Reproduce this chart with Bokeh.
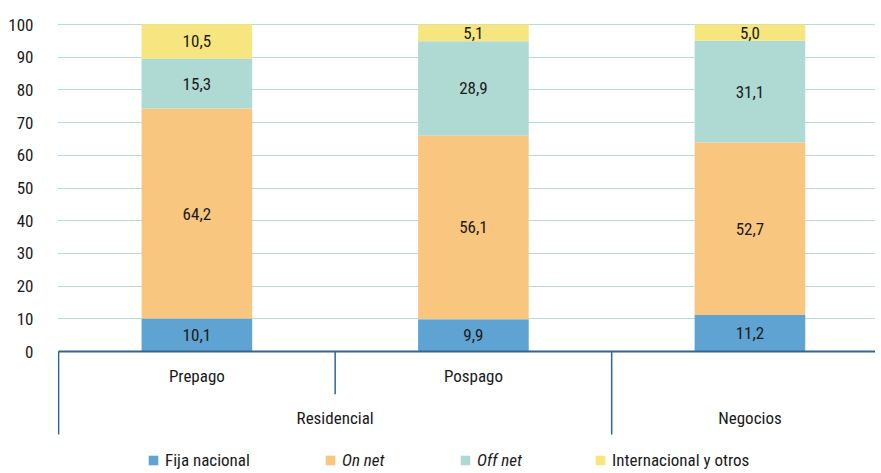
import numpy as np
from bokeh.plotting import figure
from bokeh.models import (ColumnDataSource, Range1d, FixedTicker, Legend, LegendItem)
from bokeh.core.properties import value
from bokeh.embed import file_html
from bokeh.resources import INLINE

# ---- data ----
subcategories = ["Prepago", "Pospago", ""]
groups = ["Residencial", "Residencial", "Negocios"]
group_labels = ["Residencial", "Negocios"]
series = ["Fija nacional", "On net", "Off net", "Internacional y otros"]
fija_nacional = [10.1, 9.9, 11.2]
on_net = [64.2, 56.1, 52.7]
off_net = [15.3, 28.9, 31.1]
internacional = [10.5, 5.1, 5.0]
y_ticks = list(range(0, 101, 10))

colors = ["#5fa3d3", "#f9c680", "#afd9d3", "#f7e67f"]
FONT = "'Noto Sans Condensed', 'Roboto Condensed', 'Liberation Sans Narrow', 'DejaVu Sans Condensed', sans-serif"
TXT = "#1a1a1a"
AXIS = "#2f6792"

n = len(subcategories)
xs = np.arange(n) + 0.5
src = ColumnDataSource(dict(x=xs, fija=fija_nacional, on=on_net, off=off_net, intl=internacional))

p = figure(width=875, height=470, output_backend="svg", toolbar_location=None,
           x_range=Range1d(-0.004, 2.954), y_range=Range1d(-36.39, 107.34),
           min_border=0, min_border_left=57)
p.outline_line_color = None
p.xaxis.visible = False
p.xgrid.visible = False
p.ygrid.ticker = FixedTicker(ticks=y_ticks)
p.ygrid.grid_line_color = "#b5ddd8"
p.ygrid.grid_line_width = 1
p.yaxis.ticker = FixedTicker(ticks=y_ticks)
p.yaxis.axis_line_color = None
p.yaxis.major_tick_line_color = None
p.yaxis.minor_tick_line_color = None
p.yaxis.major_label_standoff = 18
p.yaxis.major_label_text_font = FONT
p.yaxis.major_label_text_font_size = "17px"
p.yaxis.major_label_text_color = TXT

rends = p.vbar_stack(["fija", "on", "off", "intl"], x="x", width=0.4, color=colors,
                     line_color=None, source=src)

# data labels
vals = np.array([fija_nacional, on_net, off_net, internacional])
bottoms = np.vstack([np.zeros(n), np.cumsum(vals, axis=0)[:-1]])
mids = bottoms + vals / 2
lx, ly, lt = [], [], []
for s in range(vals.shape[0]):
    for i in range(n):
        lx.append(xs[i]); ly.append(mids[s, i]); lt.append(f"{vals[s, i]:.1f}".replace(".", ","))
p.text(x=lx, y=ly, text=lt, text_align="center", text_baseline="middle",
       text_font=value(FONT), text_font_size="17px", text_color=TXT)

# x axis line and category separators
p.segment(x0=[0], y0=[0], x1=[3], y1=[0], line_color=AXIS, line_width=2)
p.segment(x0=[0, 1, 2], y0=[0, 0, 0], x1=[0, 1, 2], y1=[-25.4, -13.1, -25.4],
          line_color=AXIS, line_width=1.5)

# category labels
sub_x = [xs[i] for i in range(n) if subcategories[i]]
sub_t = [s for s in subcategories if s]
p.text(x=sub_x, y=[-7.4] * len(sub_x), text=sub_t, text_align="center", text_baseline="middle",
       text_font=value(FONT), text_font_size="17px", text_color=TXT)
gx = []
for g in group_labels:
    idx = [i for i in range(n) if groups[i] == g]
    gx.append((min(idx) + max(idx) + 1) / 2)
p.text(x=gx, y=[-20.3] * len(gx), text=group_labels, text_align="center", text_baseline="middle",
       text_font=value(FONT), text_font_size="17px", text_color=TXT)

# legends (separate so two can be italic)
leg_x = [90, 267, 402, 537]
italic = [False, True, True, False]
for k in range(4):
    leg = Legend(items=[LegendItem(label=series[k], renderers=[rends[k]])],
                 location=(leg_x[k], 0), orientation="horizontal",
                 background_fill_alpha=0, border_line_color=None, padding=0, margin=0,
                 glyph_width=12, glyph_height=12, label_standoff=6, label_height=12,
                 label_text_font=FONT, label_text_font_size="17px", label_text_color=TXT,
                 label_text_font_style="italic" if italic[k] else "normal")
    p.add_layout(leg, "center")

open("out.html", "w").write(file_html(p, INLINE))
